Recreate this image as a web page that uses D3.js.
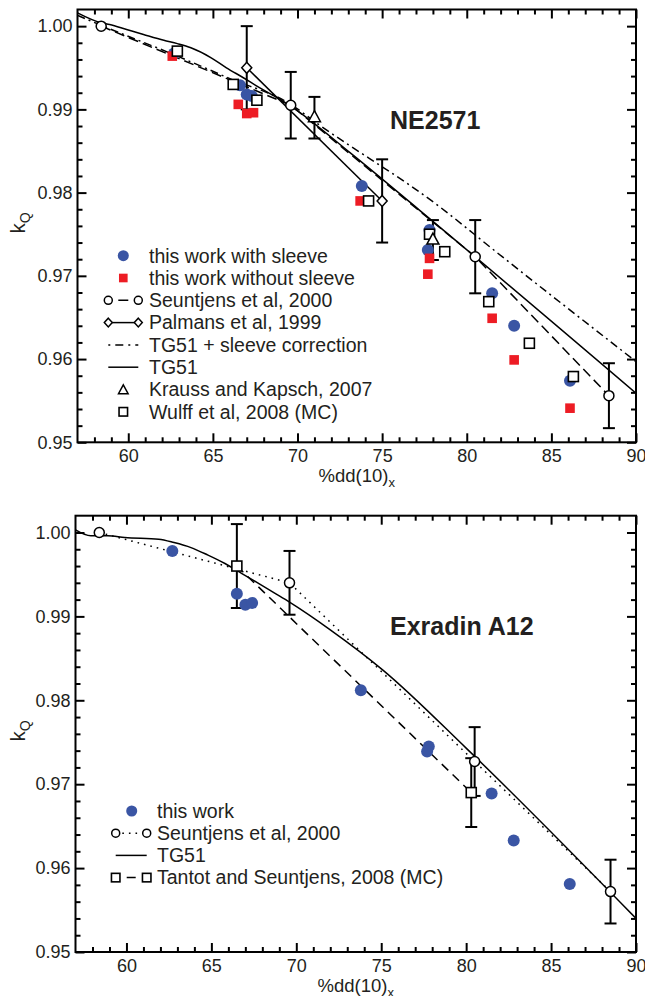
<!DOCTYPE html>
<html><head><meta charset="utf-8">
<script src="https://cdn.jsdelivr.net/npm/d3@7"></script>
<style>body{margin:0;background:#fff}svg{display:block}</style>
</head><body><svg id="c" width="645" height="996"></svg>
<script>
// ---------- DATA ----------
const xMajor = [60, 65, 70, 75, 80, 85, 90];
const yMajor = [0.95, 0.96, 0.97, 0.98, 0.99, 1.00];
const xDomain = [57, 90];
const yDomain = [0.95, 1.002];

// NE2571 panel  [x, kQ, err]
const neSleeve = [[62.7,0.9967],[66.6,0.9929],[67.0,0.9918],[67.3,0.9916],[73.8,0.9808],[77.8,0.9755],[77.7,0.9731],[81.5,0.9679],[82.8,0.9640],[86.1,0.9574]];
const neNoSleeve = [[62.6,0.9964],[66.5,0.9906],[67.0,0.9895],[67.4,0.9896],[73.7,0.9790],[77.8,0.9721],[77.7,0.9702],[81.5,0.9649],[82.8,0.9599],[86.1,0.9541]];
const neSeuntjens = [[58.4,1.0000,0],[69.6,0.9905,0.0040],[80.5,0.9723,0.0044],[88.4,0.9556,0.0039]];
const nePalmans = [[67.0,0.9950,0.0050],[75.0,0.9790,0.0050]];
const neTG51Sleeve = [[57,1.0013],[58.4,1.0001],[62.9,0.9964],[66.0,0.9937],[69.6,0.9906],[71.1,0.9884],[78.4,0.9783],[81.6,0.9731],[90,0.9597]];
const neTG51 = [[57,1.0016],[58.4,1.0004],[58.9,1.0002],[59.9,0.9996],[60.9,0.9990],[62.1,0.9983],[62.9,0.9979],[63.7,0.9974],[64.9,0.9962],[65.8,0.9950],[66.8,0.9938],[67.6,0.9928],[69.6,0.9904],[73.1,0.9848],[77.2,0.9779],[90,0.9559]];
const neKrauss = [[71.0,0.9890,0.0025],[78.0,0.9743,0.0024]];
const neWulff = [[62.9,0.9970],[66.2,0.9930],[67.6,0.9911],[74.2,0.9790],[77.8,0.9750],[78.7,0.9729],[81.3,0.9669],[83.7,0.9619],[86.3,0.9579]];

// Exradin A12 panel
const a12This = [[62.7,0.9978],[66.5,0.9927],[67.0,0.9914],[67.4,0.9916],[73.8,0.9812],[77.8,0.9745],[77.7,0.9739],[81.5,0.9689],[82.8,0.9633],[86.1,0.9581]];
const a12Seuntjens = [[58.4,1.0000,0],[69.6,0.9940,0.0038],[80.5,0.9727,0.0041],[88.5,0.9572,0.0038]];
const a12TG51 = [[57,1.0003],[57.9,0.9996],[58.9,0.9996],[59.9,0.9994],[61.9,0.9992],[62.8,0.9988],[63.8,0.9982],[64.8,0.9973],[65.8,0.9963],[66.8,0.9951],[67.8,0.9939],[68.7,0.9928],[69.6,0.9917],[72.0,0.9884],[75.1,0.9836],[80.0,0.9743],[90,0.9540]];
const a12Tantot = [[66.5,0.9960,0.0050],[80.3,0.9690,0.0041]];

const neLegend = ["this work with sleeve","this work without sleeve","Seuntjens et al, 2000","Palmans et al, 1999","TG51 + sleeve correction","TG51","Krauss and Kapsch, 2007","Wulff et al, 2008 (MC)"];
const a12Legend = ["this work","Seuntjens et al, 2000","TG51","Tantot and Seuntjens, 2008 (MC)"];

// ---------- STYLE ----------
const BLUE = "#3a55a4", RED = "#ed1c24", TXT = "#231f20";
const FONT = "'Liberation Sans', Arial, Helvetica, sans-serif";
const svg = d3.select("#c");

function panel(o) {
  const x = d3.scaleLinear().domain(xDomain).range([o.left, o.right]);
  const y = d3.scaleLinear().domain(yDomain).range([o.bottom, o.top]);
  const g = svg.append("g");
  const clipId = "clip" + o.id;
  svg.append("clipPath").attr("id", clipId).append("rect")
    .attr("x", o.left).attr("y", o.top).attr("width", o.right - o.left).attr("height", o.bottom - o.top);

  const xMinor = d3.range(58, 90, 1).filter(v => v % 5 !== 0);
  const yMinor = d3.range(0, 26).map(i => +(0.95 + i * 0.002).toFixed(3)).filter(v => Math.round(v * 1000) % 10 !== 0 && v < 1.002);

  function styleAxis(a, labels) {
    a.select(".domain").remove();
    a.selectAll("line").attr("stroke", "#000").attr("stroke-width", 2);
    a.selectAll("text").attr("font-size", 18).attr("font-family", FONT).attr("fill", TXT);
    if (!labels) a.selectAll("text").remove();
  }
  // bottom
  g.append("g").attr("transform", `translate(0,${o.bottom})`)
    .call(d3.axisBottom(x).tickValues(xMajor).tickSize(-9).tickPadding(7).tickFormat(d3.format("d"))).call(a => styleAxis(a, true));
  g.append("g").attr("transform", `translate(0,${o.bottom})`)
    .call(d3.axisBottom(x).tickValues(xMinor).tickSize(-5).tickFormat("")).call(a => styleAxis(a, false));
  // top
  g.append("g").attr("transform", `translate(0,${o.top})`)
    .call(d3.axisTop(x).tickValues(xMajor).tickSize(-9).tickFormat("")).call(a => styleAxis(a, false));
  g.append("g").attr("transform", `translate(0,${o.top})`)
    .call(d3.axisTop(x).tickValues(xMinor).tickSize(-5).tickFormat("")).call(a => styleAxis(a, false));
  // left
  g.append("g").attr("transform", `translate(${o.left},0)`)
    .call(d3.axisLeft(y).tickValues(yMajor).tickSize(-9).tickPadding(5).tickFormat(d3.format(".2f"))).call(a => styleAxis(a, true));
  g.append("g").attr("transform", `translate(${o.left},0)`)
    .call(d3.axisLeft(y).tickValues(yMinor).tickSize(-5).tickFormat("")).call(a => styleAxis(a, false));
  // right
  g.append("g").attr("transform", `translate(${o.right},0)`)
    .call(d3.axisRight(y).tickValues(yMajor).tickSize(-9).tickFormat("")).call(a => styleAxis(a, false));
  g.append("g").attr("transform", `translate(${o.right},0)`)
    .call(d3.axisRight(y).tickValues(yMinor).tickSize(-5).tickFormat("")).call(a => styleAxis(a, false));

  g.append("rect").attr("x", o.left).attr("y", o.top).attr("width", o.right - o.left).attr("height", o.bottom - o.top)
    .attr("fill", "none").attr("stroke", "#000").attr("stroke-width", 2);

  // axis titles
  const cx = (o.left + o.right) / 2;
  const xt = g.append("text").attr("x", cx).attr("y", o.bottom + 40).attr("text-anchor", "middle")
    .attr("font-family", FONT).attr("font-size", 18.5).attr("fill", TXT);
  xt.append("tspan").text("%dd(10)");
  xt.append("tspan").attr("font-size", 13).attr("dy", 5).text("x");
  const cy = (o.top + o.bottom) / 2 - 3;
  const yt = g.append("text").attr("transform", `translate(25,${cy}) rotate(-90)`).attr("text-anchor", "middle")
    .attr("font-family", FONT).attr("font-size", 20).attr("fill", TXT);
  yt.append("tspan").text("k");
  yt.append("tspan").attr("font-size", 14).attr("dy", 5).text("Q");

  // title
  g.append("text").attr("x", o.titleX).attr("y", o.titleY).attr("font-family", FONT).attr("font-weight", "bold")
    .attr("font-size", 25).attr("fill", TXT).text(o.title);

  const plot = g.append("g").attr("clip-path", `url(#${clipId})`);
  const line = d3.line().x(d => x(d[0])).y(d => y(d[1]));
  const smooth = d3.line().x(d => x(d[0])).y(d => y(d[1])).curve(d3.curveMonotoneX);
  return {x, y, g, plot, line, smooth};
}

function drawLine(P, data, dash, curve) {
  P.plot.append("path").datum(data).attr("d", curve ? P.smooth : P.line).attr("fill", "none")
    .attr("stroke", "#000").attr("stroke-width", 1.5).attr("stroke-dasharray", dash || null);
}
function drawErr(P, data) {
  data.filter(d => d[2] > 0).forEach(d => {
    const xx = P.x(d[0]), y1 = P.y(d[1] + d[2]), y2 = P.y(d[1] - d[2]);
    const e = P.g.append("g").attr("stroke", "#000").attr("stroke-width", 2);
    e.append("line").attr("x1", xx).attr("x2", xx).attr("y1", y1).attr("y2", y2);
    e.append("line").attr("x1", xx - 6).attr("x2", xx + 6).attr("y1", y1).attr("y2", y1);
    e.append("line").attr("x1", xx - 6).attr("x2", xx + 6).attr("y1", y2).attr("y2", y2);
  });
}
function marker(sel, type, cx, cy, s) {
  s = s || 1;
  if (type === "dot") sel.append("circle").attr("cx", cx).attr("cy", cy).attr("r", 6 * s).attr("fill", BLUE);
  else if (type === "redsq") sel.append("rect").attr("x", cx - 4.8 * s).attr("y", cy - 4.8 * s).attr("width", 9.6 * s).attr("height", 9.6 * s).attr("fill", RED);
  else if (type === "ocirc") sel.append("circle").attr("cx", cx).attr("cy", cy).attr("r", 5 * s).attr("fill", "#fff").attr("stroke", "#000").attr("stroke-width", 1.5);
  else if (type === "osq") sel.append("rect").attr("x", cx - 5 * s).attr("y", cy - 5 * s).attr("width", 10 * s).attr("height", 10 * s).attr("fill", "#fff").attr("stroke", "#000").attr("stroke-width", 1.6);
  else if (type === "diam") sel.append("path").attr("d", `M${cx},${cy - 5.5 * s}L${cx + 5 * s},${cy}L${cx},${cy + 5.5 * s}L${cx - 5 * s},${cy}Z`).attr("fill", "#fff").attr("stroke", "#000").attr("stroke-width", 1.5);
  else if (type === "tri") sel.append("path").attr("d", `M${cx},${cy - 7 * s}L${cx + 6 * s},${cy + 4 * s}L${cx - 6 * s},${cy + 4 * s}Z`).attr("fill", "#fff").attr("stroke", "#000").attr("stroke-width", 1.5);
}
function drawPts(P, data, type) {
  const gg = P.g.append("g");
  data.forEach(d => marker(gg, type, P.x(d[0]), P.y(d[1])));
}
function legText(g, x, y, t) {
  g.append("text").attr("x", x).attr("y", y).attr("dy", "0.35em").attr("font-family", FONT)
    .attr("font-size", 19.5).attr("fill", TXT).text(t);
}

// ---------- TOP PANEL ----------
const T = panel({id: "t", left: 77.5, right: 636, top: 9.5, bottom: 442.3, title: "NE2571", titleX: 390, titleY: 128.5});
drawLine(T, neTG51Sleeve, "8,4,2,4", true);
drawLine(T, neTG51, null, true);
drawLine(T, neSeuntjens, "10,5", false);
drawLine(T, nePalmans, null, false);
drawErr(T, neSeuntjens); drawErr(T, nePalmans); drawErr(T, neKrauss);
drawPts(T, neSleeve, "dot");
drawPts(T, neNoSleeve, "redsq");
drawPts(T, neWulff, "osq");
drawPts(T, neSeuntjens, "ocirc");
drawPts(T, nePalmans, "diam");
drawPts(T, neKrauss, "tri");

// legend top
(function () {
  const L = T.g.append("g");
  const y0 = 255.7, dy = 22.3, tx = 149, mx = 123.3, a = 108.3, b = 138.3;
  neLegend.forEach((t, i) => legText(L, tx, y0 + i * dy, t));
  marker(L, "dot", mx, y0, 0.92);
  marker(L, "redsq", mx, y0 + dy, 0.9);
  let yy = y0 + 2 * dy;
  L.append("line").attr("x1", a).attr("x2", b).attr("y1", yy).attr("y2", yy).attr("stroke", "#000").attr("stroke-width", 1.5).attr("stroke-dasharray", "0,10,10,100");
  marker(L, "ocirc", a, yy, 0.8); marker(L, "ocirc", b, yy, 0.8);
  yy = y0 + 3 * dy;
  L.append("line").attr("x1", a).attr("x2", b).attr("y1", yy).attr("y2", yy).attr("stroke", "#000").attr("stroke-width", 1.5);
  marker(L, "diam", a, yy, 0.8); marker(L, "diam", b, yy, 0.8);
  yy = y0 + 4 * dy;
  L.append("line").attr("x1", a).attr("x2", b).attr("y1", yy).attr("y2", yy).attr("stroke", "#000").attr("stroke-width", 1.5).attr("stroke-dasharray", "2,5,8,5");
  yy = y0 + 5 * dy;
  L.append("line").attr("x1", a).attr("x2", b).attr("y1", yy).attr("y2", yy).attr("stroke", "#000").attr("stroke-width", 1.5);
  marker(L, "tri", mx, y0 + 6 * dy + 1, 0.8);
  marker(L, "osq", mx, y0 + 7 * dy, 0.85);
})();

// ---------- BOTTOM PANEL ----------
const B = panel({id: "b", left: 75.5, right: 636, top: 515.7, bottom: 952, title: "Exradin A12", titleX: 390, titleY: 635});
drawLine(B, a12TG51, null, true);
drawLine(B, a12Seuntjens, "1.6,5", false);
drawLine(B, a12Tantot, "9,6", false);
drawErr(B, a12Seuntjens); drawErr(B, a12Tantot);
drawPts(B, a12This, "dot");
drawPts(B, a12Tantot, "osq");
drawPts(B, a12Seuntjens, "ocirc");

(function () {
  const L = B.g.append("g");
  const y0 = 811, dy = 22.2, tx = 157, mx = 131.7, a = 115.7, b = 146.7;
  a12Legend.forEach((t, i) => legText(L, tx, y0 + i * dy, t));
  marker(L, "dot", mx, y0, 0.92);
  let yy = y0 + dy;
  L.append("line").attr("x1", a).attr("x2", b).attr("y1", yy).attr("y2", yy).attr("stroke", "#000").attr("stroke-width", 1.5).attr("stroke-dasharray", "1.6,5");
  marker(L, "ocirc", a, yy, 0.8); marker(L, "ocirc", b, yy, 0.8);
  yy = y0 + 2 * dy;
  L.append("line").attr("x1", a).attr("x2", b).attr("y1", yy).attr("y2", yy).attr("stroke", "#000").attr("stroke-width", 1.5);
  yy = y0 + 3 * dy;
  L.append("line").attr("x1", a).attr("x2", b).attr("y1", yy).attr("y2", yy).attr("stroke", "#000").attr("stroke-width", 1.5).attr("stroke-dasharray", "0,11,9,100");
  marker(L, "osq", a, yy, 0.85); marker(L, "osq", b, yy, 0.85);
})();
</script></body></html>
